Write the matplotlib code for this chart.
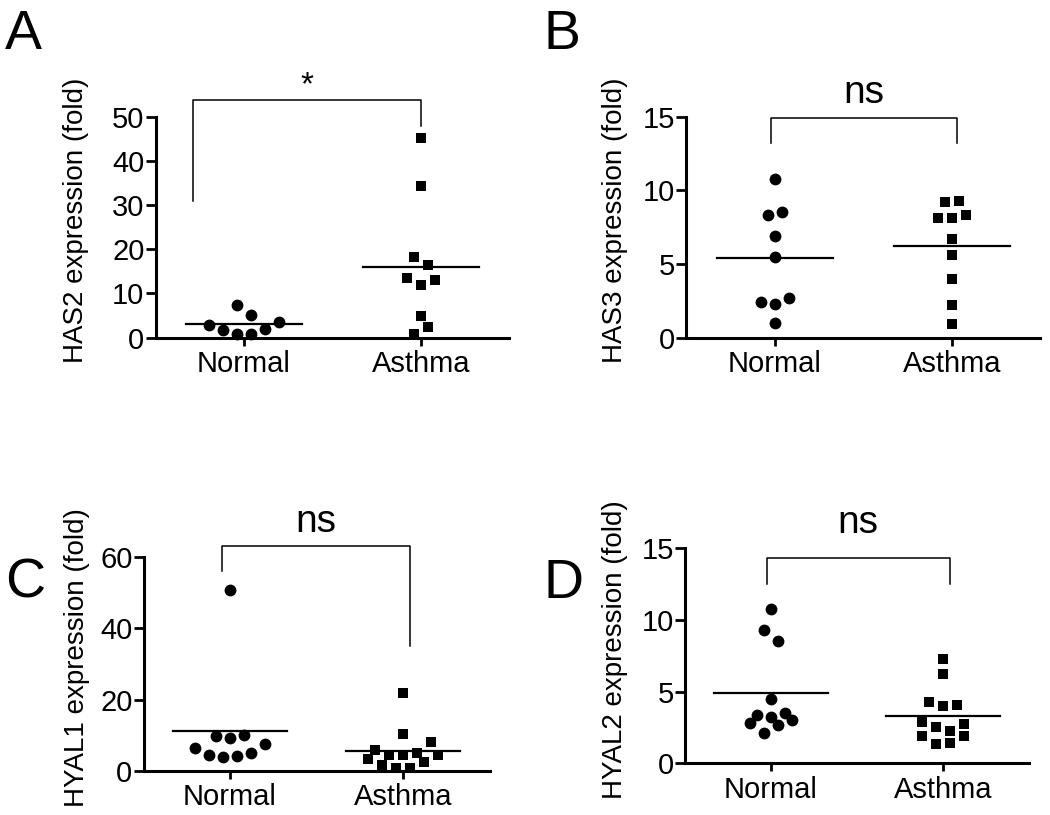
import numpy as np
import matplotlib.pyplot as plt

plt.rcParams['font.family'] = ['Liberation Sans', 'DejaVu Sans']

groups = ['Normal', 'Asthma']

# values; *_slot = horizontal jitter slot of each dot
has2_normal = [2.9, 1.7, 7.4, 0.8, 5.1, 0.8, 1.9, 3.6]
has2_normal_slot = [-5, -3, -1, -1, 1, 1, 3, 5]
has2_asthma = [45.1, 34.4, 18.3, 16.5, 13.5, 12.0, 13.0, 4.9, 2.3, 0.8]
has2_asthma_slot = [0, 0, -1, 1, -2, 0, 2, 0, 1, -1]

has3_normal = [10.8, 8.3, 8.5, 6.9, 5.5, 2.4, 2.3, 2.7, 1.0]
has3_normal_slot = [0, -1, 1, 0, 0, -2, 0, 2, 0]
has3_asthma = [9.2, 9.25, 8.1, 8.1, 8.3, 6.7, 5.6, 4.0, 2.2, 0.95]
has3_asthma_slot = [-1, 1, -2, 0, 2, 0, 0, 0, 0, 0]

hyal1_normal = [50.7, 9.9, 9.3, 10.2, 6.5, 7.5, 4.5, 3.9, 4.2, 4.9]
hyal1_normal_slot = [0, -2, 0, 2, -5, 5, -3, -1, 1, 3]
hyal1_asthma = [21.9, 10.3, 8.1, 5.8, 4.6, 4.6, 5.0, 4.4, 3.4, 2.5, 1.6, 0.7, 0.9]
hyal1_asthma_slot = [0, 0, 4, -4, -2, 0, 2, 5, -5, 3, -3, -1, 1]

hyal2_normal = [10.8, 9.3, 8.5, 4.5, 3.4, 3.5, 3.2, 2.8, 3.0, 2.7, 2.1]
hyal2_normal_slot = [0, -1, 1, 0, -2, 2, 0, -3, 3, 1, -1]
hyal2_asthma = [7.3, 6.2, 4.3, 4.0, 4.1, 2.9, 2.75, 2.5, 2.25, 1.9, 1.9, 1.35, 1.45]
hyal2_asthma_slot = [0, 0, -2, 0, 2, -3, 3, -1, 1, -3, 3, -1, 1]

panels = [
    dict(letter='A', ylabel='HAS2 expression (fold)', ymax=50, ystep=10,
         normal=(has2_normal, has2_normal_slot), asthma=(has2_asthma, has2_asthma_slot),
         bracket=(0.71, 2.0, 53.8, 30.9, 47.9), sig='*', sig_y=55.1, sig_size=24,
         rect=[0.1481, 0.5857, 0.3371, 0.2712], letter_xy=(5, 49), label_x=76),
    dict(letter='B', ylabel='HAS3 expression (fold)', ymax=15, ystep=5,
         normal=(has3_normal, has3_normal_slot), asthma=(has3_asthma, has3_asthma_slot),
         bracket=(0.976, 2.03, 14.9, 13.2, 13.2), sig='ns', sig_y=15.93, sig_size=28,
         rect=[0.6538, 0.5857, 0.3371, 0.2712], letter_xy=(544, 49), label_x=615),
    dict(letter='C', ylabel='HYAL1 expression (fold)', ymax=60, ystep=20,
         normal=(hyal1_normal, hyal1_normal_slot), asthma=(hyal1_asthma, hyal1_asthma_slot),
         bracket=(0.954, 2.04, 63.0, 56.0, 35.0), sig='ns', sig_y=66.9, sig_size=28,
         rect=[0.1367, 0.054, 0.3295, 0.2629], letter_xy=(5, 598), label_x=77),
    dict(letter='D', ylabel='HYAL2 expression (fold)', ymax=15, ystep=5,
         normal=(hyal2_normal, hyal2_normal_slot), asthma=(hyal2_asthma, hyal2_asthma_slot),
         bracket=(0.975, 2.04, 14.35, 12.54, 12.54), sig='ns', sig_y=16.06, sig_size=28,
         rect=[0.6524, 0.0634, 0.3276, 0.2638], letter_xy=(544, 598), label_x=615),
]

fig = plt.figure(figsize=(10.5, 8.15), dpi=100)
W, H = 1050, 815
step = 0.04

for p in panels:
    ax = fig.add_axes(p['rect'])
    for i, (key, marker, ms) in enumerate([('normal', 'o', 8.5), ('asthma', 's', 7.5)]):
        vals, slots = p[key]
        x = i + 1 + np.array(slots) * step
        ax.plot(x, vals, ls='none', marker=marker, ms=ms, color='black',
                markeredgewidth=0, clip_on=False)
        m = np.mean(vals)
        ax.plot([i + 1 - 0.33, i + 1 + 0.33], [m, m], color='black', lw=1.6)

    x0, x1, top, l_end, r_end = p['bracket']
    ax.plot([x0, x0, x1, x1], [l_end, top, top, r_end], color='black', lw=1.1,
            clip_on=False)
    ax.text((x0 + x1) / 2, p['sig_y'], p['sig'], ha='center', va='baseline',
            fontsize=p['sig_size'])

    ax.set_xlim(0.5, 2.5)
    ax.set_ylim(0, p['ymax'])
    ax.set_xticks([1, 2])
    ax.set_xticklabels(groups, fontsize=21)
    ax.set_yticks(np.arange(0, p['ymax'] + 1, p['ystep']))
    ax.tick_params(axis='y', labelsize=21, length=7, width=2, pad=1)
    ax.tick_params(axis='x', length=6, width=2, pad=3)
    for s in ['top', 'right']:
        ax.spines[s].set_visible(False)
    for s in ['left', 'bottom']:
        ax.spines[s].set_linewidth(2.2)
    ax.set_ylabel(p['ylabel'], fontsize=20, va='center')
    r = p['rect']
    ax.yaxis.set_label_coords((p['label_x'] / W - r[0]) / r[2], 0.53)

    fig.text(p['letter_xy'][0] / W, 1 - p['letter_xy'][1] / H, p['letter'],
             fontsize=40, ha='left', va='baseline')

fig.savefig('out.png', dpi=100)
